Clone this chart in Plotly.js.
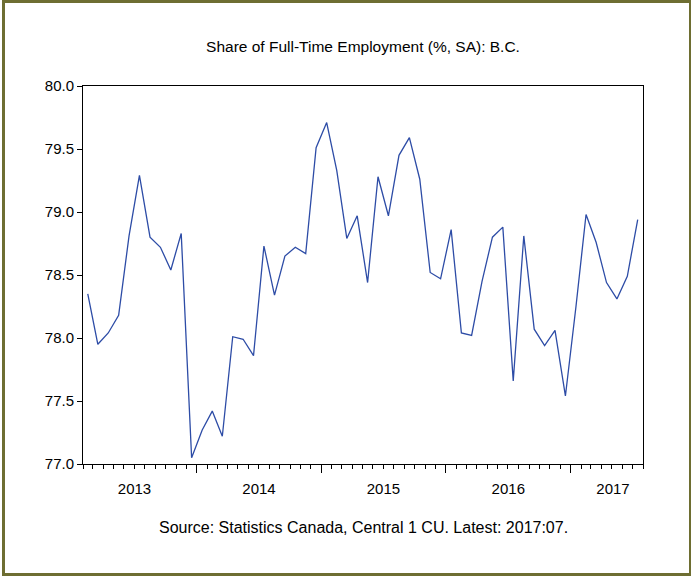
<!DOCTYPE html>
<html>
<head>
<meta charset="utf-8">
<script src="https://cdn.plot.ly/plotly-3.0.1.min.js"></script>
<style>
  html, body { margin: 0; padding: 0; background: #fff; }
  #wrap { position: relative; width: 691px; height: 579px; }
  #chart { width: 691px; height: 579px; }
  #frame { position: absolute; left: 2px; top: 0px; width: 684px; height: 570px;
           border: 3px solid #6e6e32; pointer-events: none; }
</style>
</head>
<body>
<div id="wrap">
  <div id="chart"></div>
  <div id="frame"></div>
</div>
<script>
// Monthly observations, 2013:02 to 2017:07
const months = [
  "2013-02","2013-03","2013-04","2013-05","2013-06","2013-07","2013-08","2013-09","2013-10","2013-11","2013-12",
  "2014-01","2014-02","2014-03","2014-04","2014-05","2014-06","2014-07","2014-08","2014-09","2014-10","2014-11","2014-12",
  "2015-01","2015-02","2015-03","2015-04","2015-05","2015-06","2015-07","2015-08","2015-09","2015-10","2015-11","2015-12",
  "2016-01","2016-02","2016-03","2016-04","2016-05","2016-06","2016-07","2016-08","2016-09","2016-10","2016-11","2016-12",
  "2017-01","2017-02","2017-03","2017-04","2017-05","2017-06","2017-07"
];
const fullTimeShare = [
  78.35, 77.95, 78.04, 78.18, 78.81, 79.29, 78.80, 78.72, 78.54, 78.83, 77.05,
  77.27, 77.42, 77.22, 78.01, 77.99, 77.86, 78.73, 78.34, 78.65, 78.72, 78.67, 79.51,
  79.71, 79.33, 78.79, 78.97, 78.44, 79.28, 78.97, 79.45, 79.59, 79.26, 78.52, 78.47,
  78.86, 78.04, 78.02, 78.45, 78.80, 78.88, 77.66, 78.81, 78.07, 77.94, 78.06, 77.54,
  78.25, 78.98, 78.76, 78.44, 78.31, 78.49, 78.94
];
const yearLabels = ["2013", "2014", "2015", "2016", "2017"];
const yearLabelPositions = ["2013-07-02", "2014-07-02", "2015-07-02", "2016-07-02", "2017-05-05"];
const xRange = ["2013-02-01", "2017-08-01"];
const yTicks = [77.0, 77.5, 78.0, 78.5, 79.0, 79.5, 80.0];

const font = "Liberation Sans, Arial, sans-serif";

const data = [{
  type: "scatter",
  mode: "lines",
  x: months,
  y: fullTimeShare,
  xperiod: "M1",
  xperiodalignment: "middle",
  line: { color: "#2d4ca6", width: 1.3 },
  hoverinfo: "x+y",
  showlegend: false
}, {
  // carrier trace so the label axis (x2) is drawn; invisible
  type: "scatter",
  mode: "lines",
  x: months,
  y: fullTimeShare,
  xperiod: "M1",
  xperiodalignment: "middle",
  xaxis: "x2",
  yaxis: "y",
  line: { color: "rgba(0,0,0,0)", width: 0 },
  hoverinfo: "skip",
  showlegend: false
}];

const layout = {
  width: 691,
  height: 579,
  margin: { l: 83, r: 48, t: 86, b: 115 },
  paper_bgcolor: "#ffffff",
  plot_bgcolor: "#ffffff",
  font: { family: font, color: "#000000", size: 15 },
  title: {
    text: "Share of Full-Time Employment (%, SA): B.C.",
    font: { family: font, size: 15.5, color: "#000000" },
    x: 0.5, xref: "paper", xanchor: "center",
    y: 1 - 47 / 579, yref: "container", yanchor: "middle"
  },
  xaxis: {
    type: "date",
    range: xRange,
    tick0: "2013-01-01",
    dtick: "M12",
    ticks: "outside",
    ticklen: 8,
    tickwidth: 1,
    tickcolor: "#000000",
    showticklabels: false,
    minor: { dtick: "M1", tick0: "2013-01-01", ticks: "outside", ticklen: 4, tickwidth: 1, tickcolor: "#000000", showgrid: false },
    showline: true, linecolor: "#000000", linewidth: 1, mirror: true,
    showgrid: false, zeroline: false, fixedrange: true
  },
  xaxis2: {
    type: "date",
    overlaying: "x",
    anchor: "y",
    side: "bottom",
    range: xRange,
    tickmode: "array",
    tickvals: yearLabelPositions,
    ticktext: yearLabels,
    ticks: "",
    ticklabelstandoff: 14,
    tickfont: { family: font, size: 15, color: "#000000" },
    showline: false, showgrid: false, zeroline: false, fixedrange: true
  },
  yaxis: {
    range: [77.0, 80.0],
    tickmode: "array",
    tickvals: yTicks,
    tickformat: ".1f",
    ticks: "outside",
    ticklen: 5,
    tickcolor: "#000000",
    tickfont: { family: font, size: 15, color: "#000000" },
    showline: true, linecolor: "#000000", linewidth: 1, mirror: true,
    showgrid: false, zeroline: false, fixedrange: true
  },
  annotations: [{
    text: "Source: Statistics Canada, Central 1 CU. Latest: 2017:07.",
    xref: "paper", yref: "paper",
    x: 0.5, y: -(527 - 464) / 378,
    xanchor: "center", yanchor: "middle",
    showarrow: false,
    font: { family: font, size: 16, color: "#000000" }
  }]
};

Plotly.newPlot("chart", data, layout, { displayModeBar: false, staticPlot: true });
</script>
</body>
</html>
